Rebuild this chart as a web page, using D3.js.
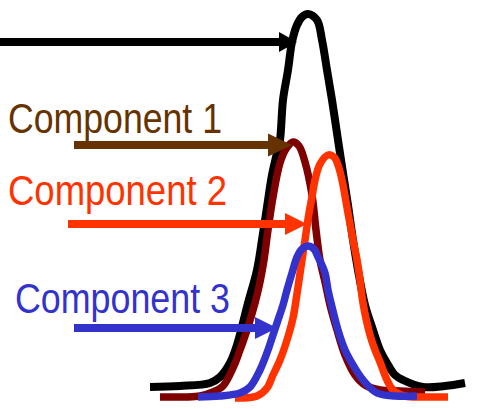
<!DOCTYPE html>
<html>
<head>
<meta charset="utf-8">
<script src="https://cdn.jsdelivr.net/npm/d3@7"></script>
<style>
  html, body { margin: 0; padding: 0; background: #fff; }
  svg { display: block; }
</style>
</head>
<body>
<svg id="chart" width="487" height="409"></svg>
<script>
// Peak profiles: [position, intensity]
const totalSignal = [
  [0, 2.75], [6, 3], [12, 3.75], [14, 5.25], [16, 8.75], [17.4, 13.25], [19.6, 23.75],
  [21.4, 32], [22.4, 39.5], [23.4, 47.75], [24.4, 55.75], [25.4, 61.25], [26, 64.5],
  [26.6, 74.5], [27.6, 82], [28.4, 89], [29.4, 93.25], [30.4, 95.25], [31.6, 96],
  [33.4, 94.5], [34.4, 89.5], [35.4, 82], [36.4, 74.5], [37.6, 64.5], [38.6, 56.25],
  [39.6, 48.25], [40.6, 39.5], [41.6, 32], [43, 23.25], [44.6, 17], [46, 12],
  [47.4, 8.75], [49, 5.75], [50.6, 4.5], [54.6, 2.75], [59, 3], [63, 3.75]
];
const component1 = [
  [2, 0.25], [7, 0.25], [10, 0.5], [12.6, 1.5], [14.6, 3], [16.6, 7.5], [18, 12],
  [19.4, 17], [21, 23.75], [22, 29], [22.8, 34.5], [23.6, 42], [24.6, 50.25],
  [26, 58.75], [27.2, 62.25], [28.6, 64], [29.8, 63], [31, 59], [32.4, 50.75],
  [33.2, 42], [34, 34.5], [35, 29], [36, 23.25], [37.4, 17], [39, 10.75],
  [41, 5.75], [43, 3.25], [46, 2], [50, 1.75], [55, 1.5]
];
const component2 = [
  [17, 0], [21.4, 0.5], [23.4, 2.5], [24.6, 5.75], [26, 9.5], [27.4, 14.5],
  [28.6, 20], [29.6, 27.75], [30.4, 34.5], [31, 39.5], [31.8, 46.25], [32.4, 50.25],
  [33, 54.5], [34, 58.5], [35.6, 60.75], [36.8, 60.25], [37.6, 58.25], [38.4, 54.5],
  [39.6, 46.25], [40.6, 39.5], [41.4, 34.5], [42, 29.5], [42.6, 23.75], [44, 15.75],
  [45, 12], [46, 9], [47.4, 4.5], [48.6, 2], [51, 0.5], [55, 0.25], [59.6, 0.25]
];
const component3 = [
  [9.6, 0.25], [14, 0.5], [18, 1.25], [20, 2.75], [22, 7], [23.6, 12], [24.6, 15.75],
  [25.6, 19.5], [26.6, 23.25], [27.4, 27], [28.4, 31.25], [29.4, 35.25], [30.4, 37.25],
  [31.6, 38], [32.8, 37.25], [33.6, 35.25], [35, 31.25], [35.6, 27], [36.4, 22.75],
  [37.6, 17], [39, 12], [40.6, 8.25], [42.6, 4.5], [45.4, 1.25], [49, 0.5], [53.4, 0.5]
];

const seriesNames = ["Total", "Component 1", "Component 2", "Component 3"];
const curveColors = ["#000000", "#7f0000", "#ff3300", "#3333cc"];
const labelColors = ["#000000", "#663300", "#ff3300", "#3333cc"];

// Arrow pointers in data units: tail position, tip position, intensity level
const arrowTail = [-30, -15.2, -16.4, -15.2];
const arrowTip = [29.4, 28.4, 31.4, 25.4];
const arrowLevel = [89, 63.25, 43.5, 17.5];

const svg = d3.select("#chart");
const x = d3.scaleLinear().domain([0, 63]).range([150, 465]);
const y = d3.scaleLinear().domain([0, 96]).range([398, 14]);

const line = d3.line()
  .x(d => x(d[0]))
  .y(d => y(d[1]))
  .curve(d3.curveCatmullRom.alpha(0.5));

const curves = [totalSignal, component1, component2, component3];
svg.append("g").attr("class", "curves")
  .selectAll("path")
  .data(curves)
  .join("path")
  .attr("d", line)
  .attr("fill", "none")
  .attr("stroke", (d, i) => curveColors[i])
  .attr("stroke-width", (d, i) => i === 0 ? 8 : 7.5)
  .attr("stroke-linejoin", "round")
  .attr("stroke-linecap", "butt");

// Labels
const labelLayout = [
  null,
  { x: 8, y: 133, w: 214 },
  { x: 8, y: 205, w: 219 },
  { x: 15, y: 313, w: 215 }
];
svg.append("g").attr("class", "labels")
  .selectAll("text")
  .data(seriesNames.map((n, i) => ({ name: n, i })).filter(d => labelLayout[d.i]))
  .join("text")
  .attr("x", d => labelLayout[d.i].x)
  .attr("y", d => labelLayout[d.i].y)
  .attr("textLength", d => labelLayout[d.i].w)
  .attr("lengthAdjust", "spacingAndGlyphs")
  .attr("font-family", "'Liberation Sans Narrow', 'Liberation Sans', Arial, sans-serif")
  .attr("font-size", 43)
  .attr("fill", d => labelColors[d.i])
  .text(d => d.name);

// Arrows
const headLen = [18, 24, 22, 22];
const headHalf = [10, 11.5, 11, 11];
const arrows = svg.append("g").attr("class", "arrows");
seriesNames.forEach((n, i) => {
  const x0 = x(arrowTail[i]);
  const x1 = x(arrowTip[i]);
  const yy = y(arrowLevel[i]);
  arrows.append("line")
    .attr("x1", x0).attr("x2", x1 - headLen[i] + 1)
    .attr("y1", yy).attr("y2", yy)
    .attr("stroke", labelColors[i])
    .attr("stroke-width", 8);
  arrows.append("path")
    .attr("d", `M${x1},${yy} L${x1 - headLen[i]},${yy - headHalf[i]} L${x1 - headLen[i]},${yy + headHalf[i]} Z`)
    .attr("fill", labelColors[i]);
});
</script>
</body>
</html>
